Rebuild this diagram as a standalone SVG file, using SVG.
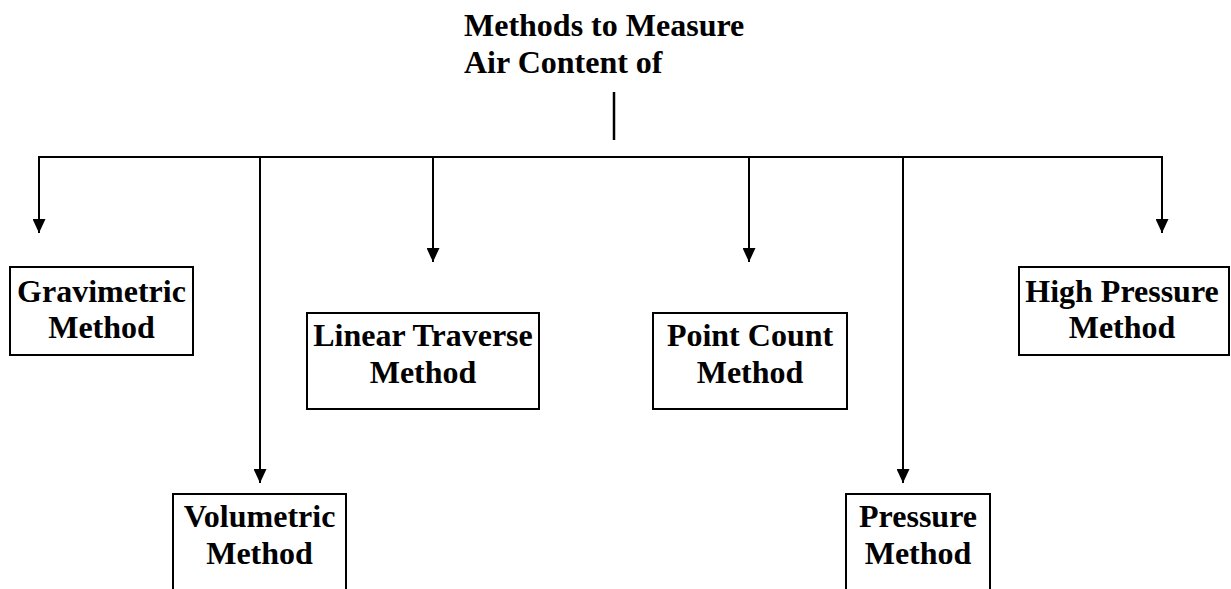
<svg xmlns="http://www.w3.org/2000/svg" width="1231" height="589" viewBox="0 0 1231 589">
<style>
text{font-family:"Liberation Serif","Times New Roman",serif;font-weight:bold;font-size:32px;fill:#000}
.c{text-anchor:middle}
.box{fill:#fff;stroke:#000;stroke-width:2}
.ln{stroke:#000;stroke-width:2;fill:none}
</style>
<defs>
<marker id="ah" markerUnits="userSpaceOnUse" markerWidth="14" markerHeight="13" viewBox="0 -6.5 14 13" refX="14" refY="0" orient="auto">
<path d="M0,-6.5 L14,0 L0,6.5 z" fill="#000"/>
</marker>
</defs>
<g id="title">
<text x="464" y="36">Methods to Measure</text>
<text x="464" y="73">Air Content of</text>
</g>
<g id="connectors">
<line class="ln" x1="614" y1="92" x2="614" y2="140" style="stroke-width:2.5"/>
<line class="ln" x1="38" y1="157" x2="1163" y2="157"/>
<line class="ln" x1="39" y1="157" x2="39" y2="233" marker-end="url(#ah)"/>
<line class="ln" x1="260" y1="157" x2="260" y2="483" marker-end="url(#ah)"/>
<line class="ln" x1="433" y1="157" x2="433" y2="262" marker-end="url(#ah)"/>
<line class="ln" x1="749" y1="157" x2="749" y2="262" marker-end="url(#ah)"/>
<line class="ln" x1="903" y1="157" x2="903" y2="483" marker-end="url(#ah)"/>
<line class="ln" x1="1162" y1="157" x2="1162" y2="233" marker-end="url(#ah)"/>
</g>
<g id="gravimetric">
<rect class="box" x="10" y="267" width="183" height="88"/>
<text class="c" x="101.5" y="302">Gravimetric</text>
<text class="c" x="101.5" y="338">Method</text>
</g>
<g id="volumetric">
<rect class="box" x="173" y="494" width="173" height="110"/>
<text class="c" x="259.5" y="527">Volumetric</text>
<text class="c" x="259.5" y="564">Method</text>
</g>
<g id="linear-traverse">
<rect class="box" x="307" y="313" width="232" height="96"/>
<text class="c" x="423" y="346">Linear Traverse</text>
<text class="c" x="423" y="383">Method</text>
</g>
<g id="point-count">
<rect class="box" x="653" y="313" width="194" height="96"/>
<text class="c" x="750" y="346">Point Count</text>
<text class="c" x="750" y="383">Method</text>
</g>
<g id="pressure">
<rect class="box" x="846" y="494" width="144" height="110"/>
<text class="c" x="918" y="527">Pressure</text>
<text class="c" x="918" y="564">Method</text>
</g>
<g id="high-pressure">
<rect class="box" x="1019" y="267" width="210" height="88"/>
<text class="c" x="1122" y="302">High Pressure</text>
<text class="c" x="1122" y="338">Method</text>
</g>
</svg>
